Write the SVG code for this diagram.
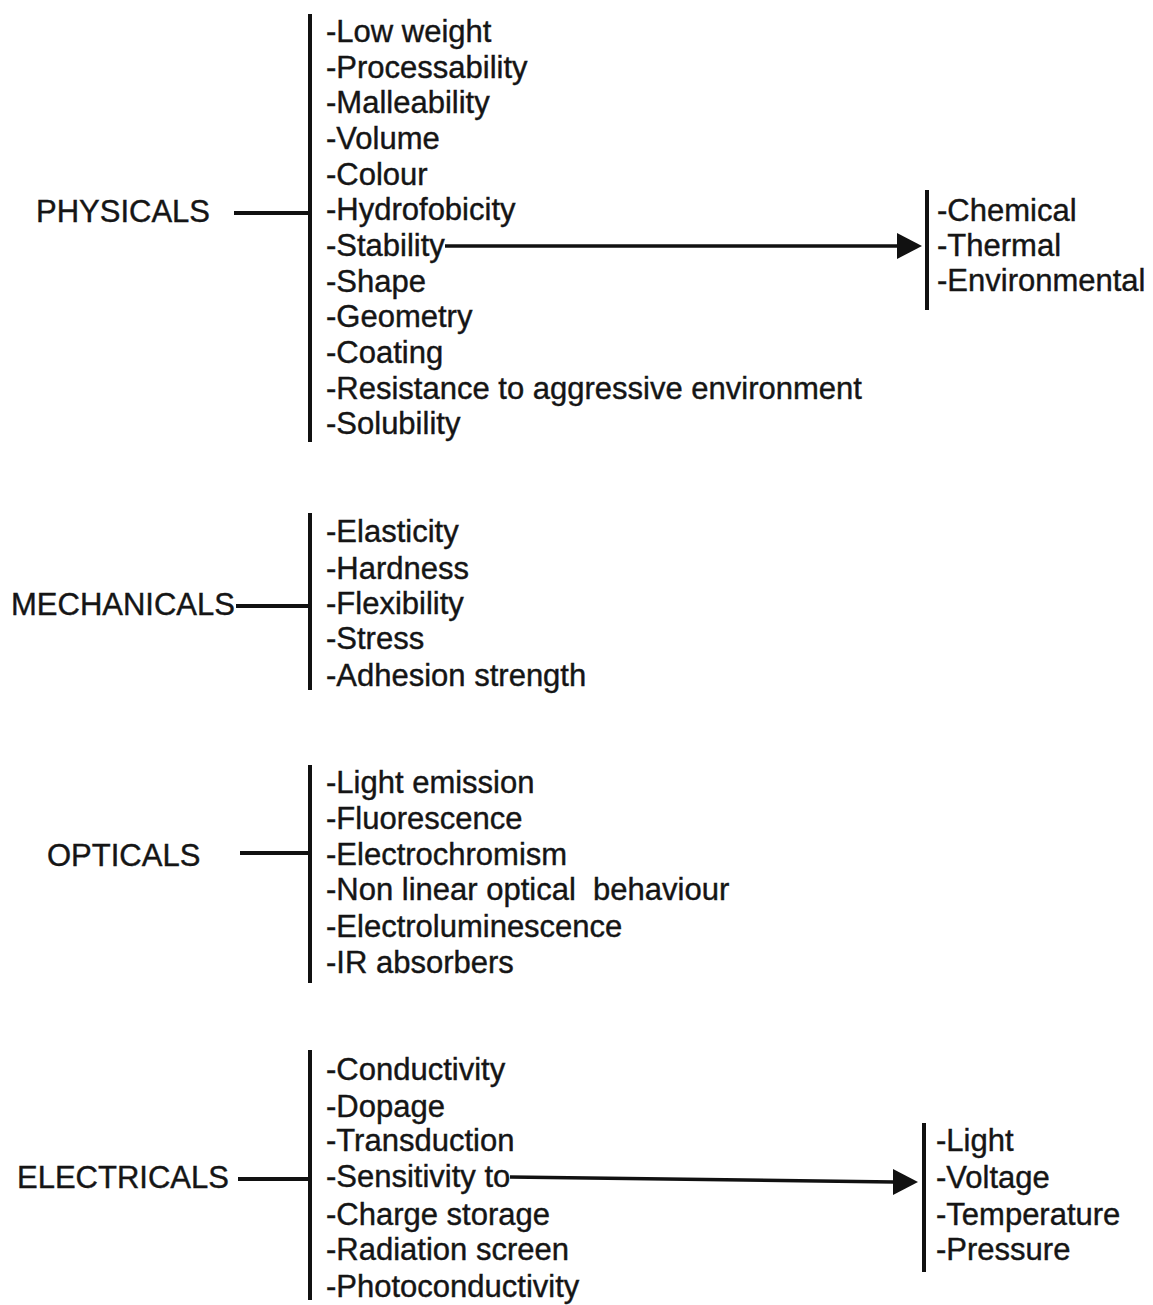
<svg xmlns="http://www.w3.org/2000/svg" width="1153" height="1305" viewBox="0 0 1153 1305">
<style>
text{font-family:"Liberation Sans",Arial,sans-serif;font-size:31px;fill:#151515;stroke:#151515;stroke-width:0.4;white-space:pre}
.bar{stroke:#111;stroke-width:4;fill:none}
.ln{stroke:#111;stroke-width:4;fill:none}
.ar{stroke:#111;stroke-width:3.5;fill:none}
</style>
<rect width="1153" height="1305" fill="#fff"/>
<g id="physicals">
<text x="36" y="222">PHYSICALS</text>
<path class="bar" d="M310,14 V442"/>
<g id="physicals-items">
<text x="326" y="42">-Low weight</text>
<text x="326" y="77.5">-Processability</text>
<text x="326" y="113">-Malleability</text>
<text x="326" y="149">-Volume</text>
<text x="326" y="184.5">-Colour</text>
<text x="326" y="220">-Hydrofobicity</text>
<text x="326" y="256">-Stability</text>
<text x="326" y="291.5">-Shape</text>
<text x="326" y="327">-Geometry</text>
<text x="326" y="363">-Coating</text>
<text x="326" y="398.5">-Resistance to aggressive environment</text>
<text x="326" y="434">-Solubility</text>
</g>
</g>
<g id="stability">
<path class="bar" d="M927,190 V310"/>
<text x="937" y="221">-Chemical</text>
<text x="937" y="256">-Thermal</text>
<text x="937" y="291">-Environmental</text>
</g>
<g id="mechanicals">
<text x="11" y="615">MECHANICALS</text>
<path class="bar" d="M310,513 V690"/>
<text x="326" y="542">-Elasticity</text>
<text x="326" y="579">-Hardness</text>
<text x="326" y="614">-Flexibility</text>
<text x="326" y="649">-Stress</text>
<text x="326" y="686">-Adhesion strength</text>
</g>
<g id="opticals">
<text x="47" y="866">OPTICALS</text>
<path class="bar" d="M310,765 V983"/>
<text x="326" y="793">-Light emission</text>
<text x="326" y="829">-Fluorescence</text>
<text x="326" y="865">-Electrochromism</text>
<text x="326" y="900" xml:space="preserve">-Non linear optical  behaviour</text>
<text x="326" y="937">-Electroluminescence</text>
<text x="326" y="973">-IR absorbers</text>
</g>
<g id="electricals">
<text x="17" y="1188">ELECTRICALS</text>
<path class="bar" d="M310,1050 V1300"/>
<text x="326" y="1080">-Conductivity</text>
<text x="326" y="1117">-Dopage</text>
<text x="326" y="1151">-Transduction</text>
<text x="326" y="1187">-Sensitivity to</text>
<text x="326" y="1225">-Charge storage</text>
<text x="326" y="1260">-Radiation screen</text>
<text x="326" y="1297">-Photoconductivity</text>
</g>
<g id="sensitivity">
<path class="bar" d="M924,1123 V1272"/>
<text x="936" y="1151">-Light</text>
<text x="936" y="1188">-Voltage</text>
<text x="936" y="1225">-Temperature</text>
<text x="936" y="1260">-Pressure</text>
</g>
<g id="connectors">
<path class="ln" d="M234,213 H310"/>
<path class="ln" d="M236,606 H310"/>
<path class="ln" d="M240,853 H310"/>
<path class="ln" d="M238,1179 H310"/>
<path class="ar" d="M445,246 H898"/>
<path d="M897,233 L922,246 L897,259 z" fill="#111"/>
<path class="ar" d="M510,1177 L894,1182"/>
<path d="M893,1169 L918,1182 L893,1195 z" fill="#111"/>
</g>
</svg>
